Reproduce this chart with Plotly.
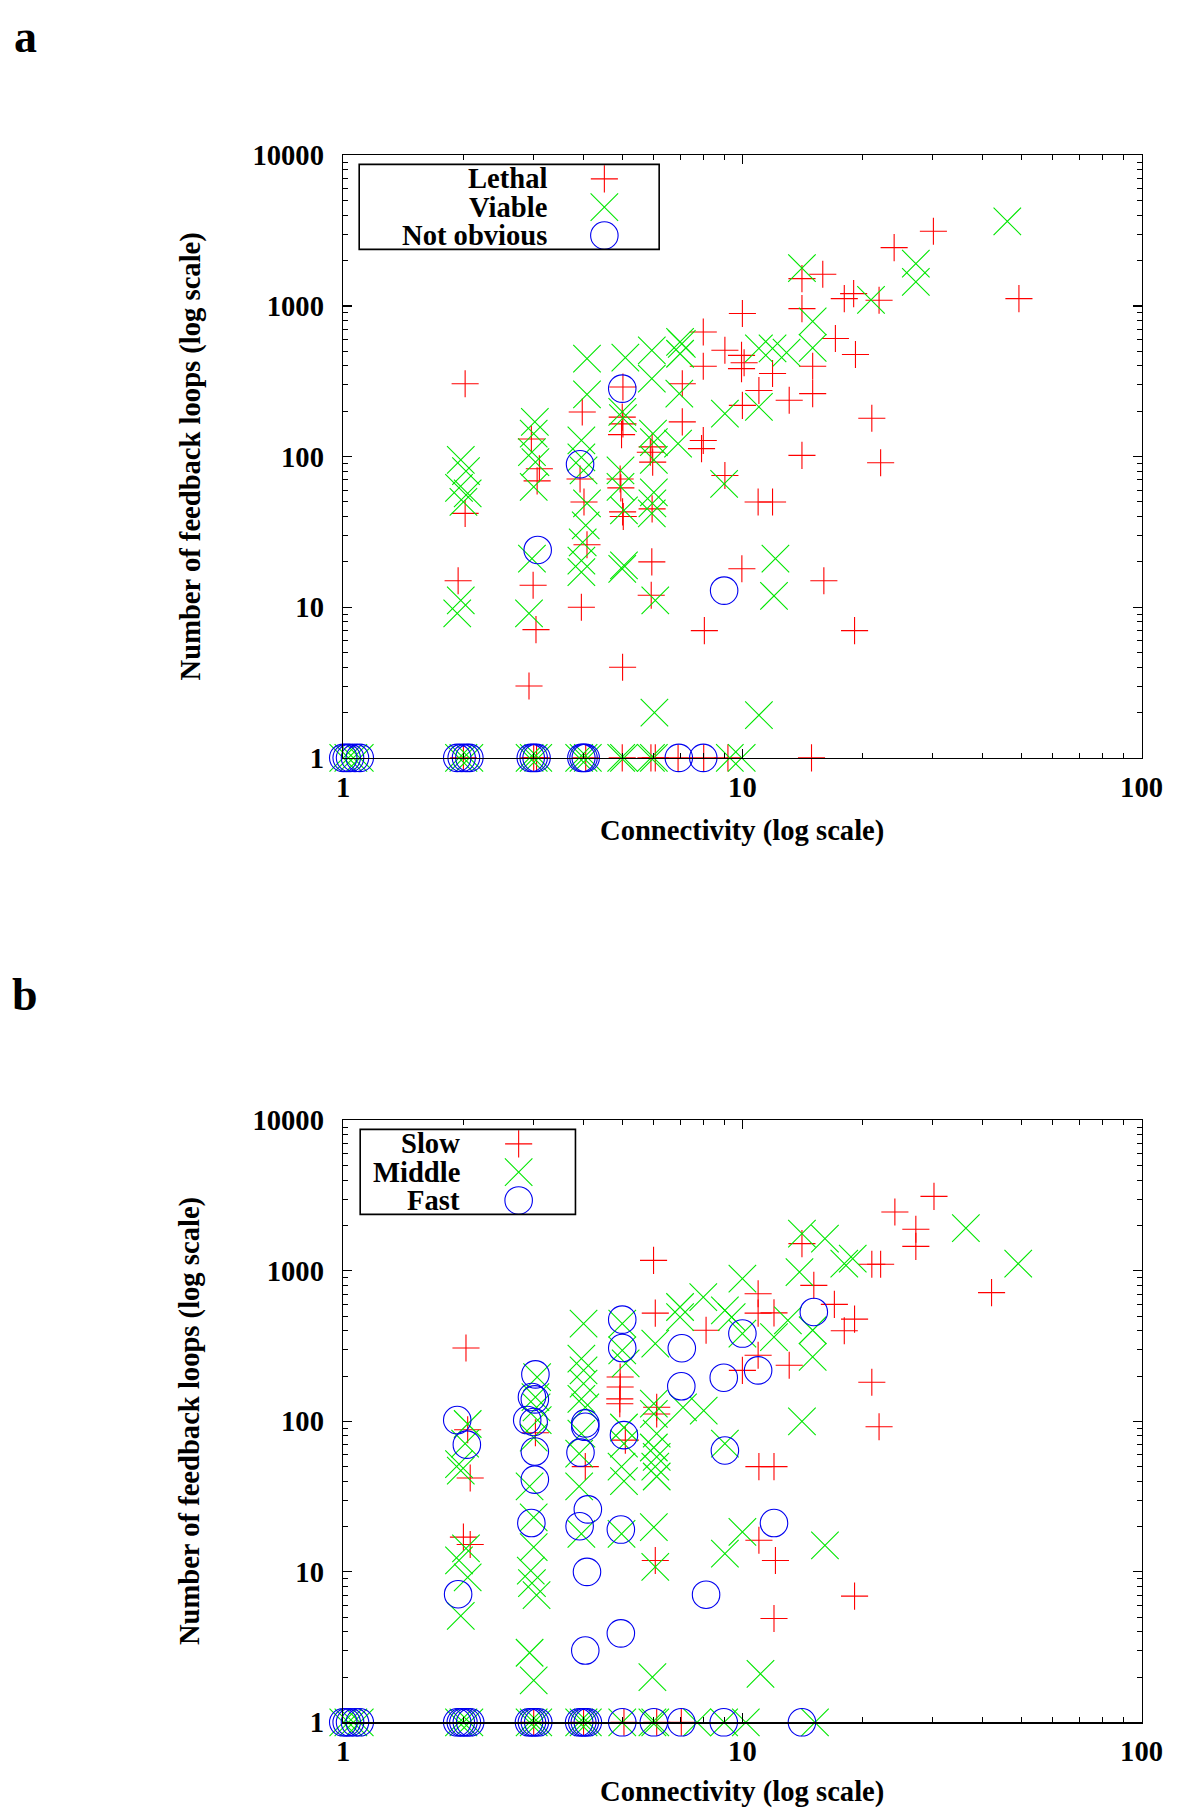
import plotly.graph_objects as go

# ---------------- data: panel a ----------------
a_lethal_x = [2.02, 2.02, 1.94, 2.96, 3.10, 3.06, 2.99, 3.04, 2.92, 3.97, 3.92, 4.01, 4.08, 3.95,
              5.02, 5.00, 5.02, 4.98, 4.94, 4.96, 5.01, 5.03, 5.01, 5.94, 5.88, 5.96, 5.94, 5.93, 5.91,
              7.07, 7.07, 7.98, 7.98, 7.98, 7.90, 8.03, 9.04, 9.95, 10.1, 9.95, 10.0, 9.04, 10.0,
              10.95, 11.9, 11.0, 11.9, 13.1, 14.1, 14.1, 14.1, 15.0, 15.0, 15.9, 17.1, 18.0, 19.0,
              19.2, 22.0, 21.1, 22.2, 24.0, 30.1, 49.3, 9.97, 16.0, 19.1,
              2.0, 3.0, 3.05, 4.05, 5.0, 5.9, 6.05, 6.9, 8.0, 9.2, 14.9]
a_lethal_y = [305, 42, 15, 131, 83, 69, 14, 7.1, 3.0, 198, 71, 50, 26, 10,
              290, 183, 165, 140, 71, 62, 43, 40, 4.0, 116, 107, 92, 45, 20, 12,
              305, 170, 672, 398, 128, 113, 7.0, 508, 470, 420, 384, 891, 75, 219,
              50, 50, 275, 356, 237, 102, 961, 1521, 398, 262, 1625, 608, 1120, 1208,
              476, 1091, 180, 91, 2443, 3133, 1120, 18, 15, 7.0,
              1, 1, 1, 1, 1, 1, 1, 1, 1, 1, 1]

a_viable_x = [1.97, 2.03, 1.95, 2.05, 2.0, 1.97, 1.93,
              3.02, 3.0, 2.97, 3.03, 3.0, 2.97, 2.92,
              4.08, 4.08, 3.95, 3.95, 4.0, 4.08, 4.05, 3.98, 3.95, 3.95,
              5.09, 5.0, 5.02, 4.95, 4.95, 5.05, 5.0, 5.05,
              5.93, 5.93, 5.97, 6.0, 6.0, 6.0, 5.95, 5.93, 6.05, 6.02,
              6.98, 7.05, 6.98, 6.95, 6.9,
              9.04, 9.0,
              11.0, 11.0, 11.9, 12.9, 15.0, 15.0, 14.1, 21.0, 27.2, 27.2, 46.1, 12.1, 12.0, 11.0,
              1.0, 1.03, 1.06, 1.1, 1.95, 2.0, 2.07, 2.93, 3.0, 3.08, 3.9, 4.0, 4.1, 4.97, 5.05,
              5.9, 6.0, 9.3, 9.96]
a_viable_y = [95, 80, 62, 57, 50, 11.1, 9.1,
              170, 142, 107, 92, 63, 21, 9.1,
              448, 259, 128, 99, 81, 49, 35, 27, 20.4, 17.1,
              455, 198, 180, 81, 63, 44, 18, 19,
              508, 330, 142, 125, 95, 58, 49, 42, 11.1, 2.0,
              577, 560, 482, 262, 122,
              193, 66,
              214, 523, 523, 490, 791, 527, 1787, 1100, 1911, 1445, 3650, 21, 11.9, 1.92,
              1, 1, 1, 1, 1, 1, 1, 1, 1, 1, 1, 1, 1, 1, 1,
              1, 1, 1, 1]

a_notobv_x = [5.0, 3.92, 3.07, 9.0,
              1.0, 1.02, 1.04, 1.07, 1.1, 1.93, 1.98, 2.03, 2.07, 2.95, 3.0, 3.05, 3.95, 4.0, 4.05,
              6.93, 7.98]
a_notobv_y = [283, 89, 24, 12.9,
              1, 1, 1, 1, 1, 1, 1, 1, 1, 1, 1, 1, 1, 1, 1,
              1, 1]

# ---------------- data: panel b ----------------
b_slow_x = [2.03, 2.05, 2.08, 2.0, 2.08, 3.03, 4.04, 4.94, 4.94, 4.93, 4.93, 5.09, 5.99, 6.05,
            6.1, 6.1, 6.05, 8.11, 10.0, 10.95, 10.95, 12.0, 10.95, 13.1, 11.0, 12.0, 11.0, 12.1,
            12.0, 14.1, 15.1, 17.0, 19.1, 18.0, 21.1, 22.2, 21.1, 22.0, 19.1, 24.1, 27.2, 27.2,
            30.2, 42.1,
            3.0, 4.0, 5.05, 6.1, 7.03]
b_slow_y = [307, 88, 42, 17, 15.2, 84, 50, 197, 169, 141, 131, 75, 1174, 524,
            124, 112, 11.9, 403, 218, 705, 524, 526, 275, 236, 50, 50, 16.2, 11.9,
            4.9, 1517, 801, 599, 478, 400, 1105, 1105, 182, 92, 6.9, 2459, 1888, 1455,
            3126, 717,
            1, 1, 1, 1, 1]

b_middle_x = [2.05, 2.02, 1.95, 1.97, 2.03, 1.95, 2.05, 1.97,
              3.06, 3.03, 3.05, 3.07, 3.0, 2.93, 3.0, 3.0, 2.95, 2.97, 3.05, 2.93, 3.0,
              4.0, 3.95, 4.0, 4.0, 3.95, 4.04, 3.95, 3.9, 3.9, 3.95,
              5.0, 5.0, 5.1, 5.05, 5.05, 4.98, 5.05, 4.98,
              6.05, 6.0, 6.0, 6.1, 6.0, 6.1, 6.05, 6.1, 6.0, 6.05, 5.95,
              6.98, 6.98, 7.98, 7.1, 8.0, 9.04, 9.4, 9.04, 9.04,
              10.0, 10.0, 12.0, 13.0, 15.0, 15.0, 13.9, 14.1, 16.1, 18.0, 18.9, 10.0, 11.1, 14.1,
              16.1, 36.3, 49.1,
              1.0, 1.03, 1.06, 1.1, 1.95, 2.0, 2.07, 2.93, 3.0, 3.08, 3.9, 4.0, 4.1, 5.0, 5.95,
              6.05, 7.7, 9.0, 10.2, 15.2]
b_middle_y = [96, 71, 52, 47, 14.3, 11.9, 9.2, 5.1,
              197, 145, 124, 102, 78, 37, 23, 14.6, 10.2, 8.4, 7.0, 2.9, 1.9,
              446, 261, 218, 178, 141, 124, 83, 61, 37, 17.9,
              446, 296, 243, 91, 71, 50, 40, 17.9,
              328, 131, 112, 83, 67, 58, 50, 43, 19.8, 10.8, 2.0,
              575, 493, 670, 124, 118, 547, 493, 71, 13.2,
              888, 383, 363, 468, 403, 268, 982, 1767, 1637, 1116, 1205, 18.4, 2.1, 100,
              15.0, 1925, 1116,
              1, 1, 1, 1, 1, 1, 1, 1, 1, 1, 1, 1, 1, 1, 1,
              1, 1, 1, 1, 1]

b_fast_x = [1.93, 2.04, 1.94, 3.03, 2.97, 3.02, 2.89, 3.0, 3.02, 3.02, 2.96, 4.04, 4.04, 3.93,
            4.1, 3.91, 4.08, 4.04, 5.0, 5.0, 5.05, 4.96, 4.96, 7.05, 7.03, 8.98, 10.0, 10.95,
            15.1, 9.04, 8.11, 12.0,
            1.0, 1.02, 1.04, 1.07, 1.1, 1.93, 1.97, 2.0, 2.04, 2.08, 2.92, 2.97, 3.02, 3.08,
            3.9, 3.97, 4.03, 4.1, 5.0, 6.0, 7.03, 8.98, 14.1]
b_fast_y = [102, 70, 7.1, 205, 145, 140, 102, 99, 63, 41, 21.1, 97, 92, 62,
            26, 20.1, 10, 3.0, 474, 307, 81, 19.1, 3.9, 306, 171, 195, 383, 218,
            533, 64, 7.05, 21.1,
            1, 1, 1, 1, 1, 1, 1, 1, 1, 1, 1, 1, 1, 1,
            1, 1, 1, 1, 1, 1, 1, 1, 1]

x_tick_vals = [1, 10, 100]
x_tick_text = ["1", "10", "100"]
y_tick_vals = [1, 10, 100, 1000, 10000]
y_tick_text = ["1", "10", "100", "1000", "10000"]
legend_a = ["Lethal", "Viable", "Not obvious"]
legend_b = ["Slow", "Middle", "Fast"]
x_title = "Connectivity (log scale)"
y_title = "Number of feedback loops (log scale)"

# ---------------- styling / layout ----------------
W, H = 1200, 1819
OFF = 0                      # body margin removed by post_script
# measured mapping between requested page position and photographed position
SX, CX = 0.980, 4.6
SY, CY = 0.983, 14.6
K = 1 / ((SX + SY) / 2)      # size compensation

FONT = "Liberation Serif"
RED, GREEN, BLUE = "#ff0000", "#00e600", "#0000f0"
SYMS = [("cross-thin-open", 19 * K, RED), ("x-thin-open", 27 * K, GREEN),
        ("circle-open", 27 * K, BLUE)]
LW = 1.1

# target geometry (photographed pixels)
PX_L, PX_R = 342, 1143
A_TOP, A_BOT = 155, 757.5
B_TOP, B_BOT = 1120, 1722


def ix(p):
    return (p - CX) / SX


def iy(p):
    return (p - CY) / SY


def xdom(l, r):
    return [(ix(l) - OFF) / W, (ix(r) - OFF) / W]


def ydom(top, bot):
    return [1 - (iy(bot) - OFF) / H, 1 - (iy(top) - OFF) / H]


minor_x = [v * d for d in (1, 10) for v in range(2, 10)]
minor_y = [v * d for d in (1, 10, 100, 1000) for v in range(2, 10)]

FS = 28.6
tickfont = dict(family=FONT, size=FS, color="black", weight="bold")


def axis_common(kind):
    d = dict(type="log", showline=True, linecolor="black", linewidth=1.6,
             mirror="allticks", ticks="inside", ticklen=9, tickwidth=1.3,
             tickcolor="black", showgrid=False, zeroline=False,
             tickfont=tickfont, fixedrange=True)
    if kind == "x":
        d.update(range=[0, 2], tickvals=x_tick_vals, ticktext=x_tick_text,
                 ticklabelstandoff=3,
                 minor=dict(ticks="inside", ticklen=5, tickwidth=1, tickcolor="black",
                            tickvals=minor_x, showgrid=False))
    else:
        d.update(range=[0, 4], tickvals=y_tick_vals, ticktext=y_tick_text,
                 ticklabelstandoff=12,
                 minor=dict(ticks="inside", ticklen=5, tickwidth=1, tickcolor="black",
                            tickvals=minor_y, showgrid=False))
    return d


fig = go.Figure()

series_a = [(a_lethal_x, a_lethal_y), (a_viable_x, a_viable_y), (a_notobv_x, a_notobv_y)]
series_b = [(b_slow_x, b_slow_y), (b_middle_x, b_middle_y), (b_fast_x, b_fast_y)]

for series, xa, ya in ((series_a, "x", "y"), (series_b, "x2", "y2")):
    for (xs, ys), (sym, size, col) in zip(series, SYMS):
        fig.add_trace(go.Scatter(
            x=xs, y=ys, xaxis=xa, yaxis=ya, mode="markers", cliponaxis=False,
            showlegend=False, hoverinfo="skip",
            marker=dict(symbol=sym, size=size, color=col, line=dict(width=LW, color=col))))

# gnuplot-style key (text right-aligned, sample to the right), placed in pixel axes
LEG = [
    dict(top=A_TOP, box=(358, 164, 659, 249), text_right=548, mark_x=604, labels=legend_a),
    dict(top=B_TOP, box=(359, 1129, 575, 1214), text_right=461, mark_x=518, labels=legend_b),
]
row_off = [23.5, 51.8, 80.1]
shapes, annotations = [], []
for lg in LEG:
    x0, y0, x1, y1 = lg["box"]
    shapes.append(dict(type="rect", xref="x3", yref="y3", x0=x0, y0=y0, x1=x1, y1=y1,
                       line=dict(color="black", width=1.6), fillcolor="rgba(0,0,0,0)"))
    for i, (lab, (sym, size, col)) in enumerate(zip(lg["labels"], SYMS)):
        yy = lg["top"] + row_off[i]
        annotations.append(dict(xref="x3", yref="y3", x=lg["text_right"], y=yy,
                                xanchor="right", yanchor="middle", showarrow=False,
                                text=lab, font=dict(family=FONT, size=FS, color="black",
                                                    weight="bold")))
        fig.add_trace(go.Scatter(
            x=[lg["mark_x"]], y=[yy], xaxis="x3", yaxis="y3", mode="markers",
            showlegend=False, hoverinfo="skip", cliponaxis=False,
            marker=dict(symbol=sym, size=size, color=col, line=dict(width=LW, color=col))))

# axis titles and panel letters
for top, bot, letter, ly, xt_off in ((A_TOP, A_BOT, "a", 36, 73), (B_TOP, B_BOT, "b", 994, 70)):
    annotations.append(dict(xref="x3", yref="y3", x=(PX_L + PX_R) / 2, y=bot + xt_off,
                            text=x_title, showarrow=False, xanchor="center", yanchor="middle",
                            font=dict(family=FONT, size=FS, color="black", weight="bold")))
    annotations.append(dict(xref="x3", yref="y3", x=189, y=(top + bot) / 2, textangle=-90,
                            text=y_title, showarrow=False, xanchor="center", yanchor="middle",
                            font=dict(family=FONT, size=FS, color="black", weight="bold")))
    annotations.append(dict(xref="x3", yref="y3", x=23, y=ly, text=letter, showarrow=False,
                            xanchor="center", yanchor="middle",
                            font=dict(family=FONT, size=46, color="black", weight="bold")))

xa = axis_common("x")
ya = axis_common("y")
fig.update_layout(
    width=W, height=H, margin=dict(l=0, r=0, t=0, b=0, pad=0),
    paper_bgcolor="white", plot_bgcolor="rgba(0,0,0,0)",
    showlegend=False,
    xaxis=dict(xa, domain=xdom(PX_L, PX_R), anchor="y"),
    yaxis=dict(ya, domain=ydom(A_TOP, A_BOT), anchor="x"),
    xaxis2=dict(xa, domain=xdom(PX_L, PX_R), anchor="y2"),
    yaxis2=dict(ya, domain=ydom(B_TOP, B_BOT), anchor="x2"),
    # pixel overlay axes (used only for key/label placement)
    xaxis3=dict(domain=[0, 1], range=[OFF * SX + CX, (OFF + W) * SX + CX], visible=False,
                anchor="y3", fixedrange=True),
    yaxis3=dict(domain=[0, 1], range=[(OFF + H) * SY + CY, OFF * SY + CY], visible=False,
                anchor="x3", fixedrange=True),
    shapes=shapes, annotations=annotations,
)

fig.write_html("out.html", config={"staticPlot": True},
               post_script="document.body.style.margin='0px';")
